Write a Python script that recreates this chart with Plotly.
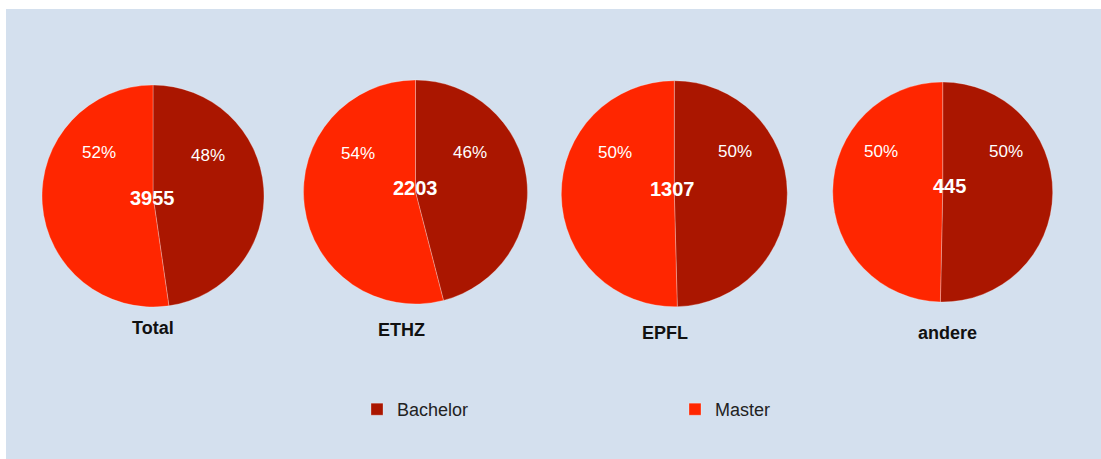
import plotly.graph_objects as go

# ---- data ----
groups = ["Total", "ETHZ", "EPFL", "andere"]
series = ["Bachelor", "Master"]
bachelor = [1887, 1013, 648, 224]
master = [2068, 1190, 659, 221]
colors = ["#aa1600", "#ff2600"]

# ---- layout (pixels in the page) ----
W, H = 1101, 459
OFF = 0
FONT = "Liberation Sans, Arial, Helvetica, sans-serif"
centers = [(153, 196), (415.5, 192), (674.3, 193.7), (942.7, 192)]
radii = [111, 112, 113, 110]
total_pos = [(152.7, 197.7), (415, 188.3), (672.3, 189), (949, 185.7)]
pct_pos = [((208.3, 155), (99, 152.7)), ((470, 152.7), (357.7, 153.3)),
           ((735, 151.7), (615.3, 152.3)), ((1005.7, 151.7), (881, 151.7))]
name_pos = [(153, 328.3), (401.7, 330), (665, 332.7), (947.7, 333.3)]

def px(x):
    return max(0.0, (x - OFF) / W)

def py(y):
    return min(1.0, 1 - (y - OFF) / H)

fig = go.Figure()
annotations = []
for i, g in enumerate(groups):
    cx, cy = centers[i]
    r = radii[i]
    vals = [bachelor[i], master[i]]
    fig.add_trace(go.Pie(
        labels=series,
        values=vals,
        name=g,
        sort=False,
        direction="clockwise",
        rotation=0,
        textinfo="none",
        hoverinfo="label+value+percent",
        marker=dict(colors=colors, line=dict(color="rgba(255,255,255,0.35)", width=0.8)),
        domain=dict(x=[px(cx - r), px(cx + r)], y=[py(cy + r), py(cy - r)]),
        showlegend=(i == 0),
    ))
    tot = sum(vals)
    annotations.append(dict(x=px(total_pos[i][0]), y=py(total_pos[i][1]), xref="paper", yref="paper",
                            text=f"<b>{tot}</b>", showarrow=False,
                            font=dict(family=FONT, size=20, color="white"),
                            xanchor="center", yanchor="middle"))
    for j in range(2):
        pct = round(100 * vals[j] / tot)
        annotations.append(dict(x=px(pct_pos[i][j][0]), y=py(pct_pos[i][j][1]), xref="paper", yref="paper",
                                text=f"{pct}%", showarrow=False,
                                font=dict(family=FONT, size=17, color="white"),
                                xanchor="center", yanchor="middle"))
    annotations.append(dict(x=px(name_pos[i][0]), y=py(name_pos[i][1]), xref="paper", yref="paper",
                            text=f"<b>{g}</b>", showarrow=False,
                            font=dict(family=FONT, size=18, color="#111111"),
                            xanchor="center", yanchor="middle"))

fig.update_layout(
    width=W, height=H,
    margin=dict(l=0, r=0, t=0, b=0),
    paper_bgcolor="white",
    plot_bgcolor="white",
    shapes=[dict(type="rect", xref="paper", yref="paper", x0=px(6), x1=1, y0=0, y1=py(9),
                 fillcolor="#d4e0ee", line=dict(width=0), layer="below")],
    annotations=annotations,
    legend=dict(orientation="h", x=px(357), y=py(391), xanchor="left", yanchor="top",
                entrywidth=273, entrywidthmode="pixels",
                font=dict(family=FONT, size=18, color="#222222"),
                bgcolor="rgba(0,0,0,0)", traceorder="normal"),
)

fig.write_html("out.html", config={"displayModeBar": False},
               post_script="document.body.style.margin='0';document.body.style.overflow='hidden';")
